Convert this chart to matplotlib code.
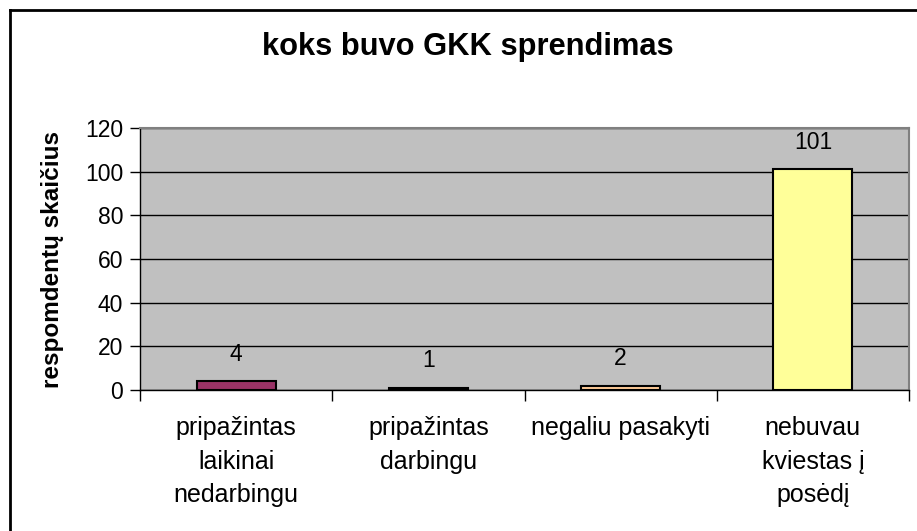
import matplotlib
matplotlib.use("Agg")
import matplotlib.pyplot as plt
from matplotlib.lines import Line2D

categories = ["pripažintas\nlaikinai\nnedarbingu", "pripažintas\ndarbingu",
              "negaliu pasakyti", "nebuvau\nkviestas į\nposėdį"]
values = [4, 1, 2, 101]
colors = ["#993366", "#000000", "#FFCC99", "#FFFF99"]
yticks = [0, 20, 40, 60, 80, 100, 120]

plt.rcParams['font.family'] = ['Liberation Sans', 'DejaVu Sans']

W, H = 917, 531
fig = plt.figure(figsize=(W / 100, H / 100), dpi=100)
fig.patch.set_facecolor("white")

ax = fig.add_axes([140 / W, 1 - 390 / H, 769 / W, 262 / H])
ax.set_facecolor("#C0C0C0")
x = list(range(len(categories)))
ax.bar(x, values, width=0.41, color=colors, edgecolor="black", linewidth=1.5, zorder=3)
ax.set_xlim(-0.5, 3.5)
ax.set_ylim(0, 120)
ax.set_yticks(yticks)
ax.yaxis.grid(True, color="#000000", linewidth=1.0, zorder=1)
ax.set_axisbelow(True)
for i, v in enumerate(values):
    ax.annotate(str(v), (i, v), xytext=(0, 27), textcoords="offset pixels",
                ha="center", va="center", fontsize=16.5)

ax.set_xticks(x)
ax.set_xticklabels(categories, fontsize=18, linespacing=1.48, va="top")
ax.tick_params(axis="x", which="major", length=0, pad=19)
ax.set_xticks([-0.5, 0.5, 1.5, 2.5, 3.5], minor=True)
ax.tick_params(axis="x", which="minor", length=8, width=1, direction="out")
ax.tick_params(axis="y", length=7, width=1, direction="out", labelsize=16.5, pad=5)

for s in ["left", "bottom"]:
    ax.spines[s].set_color("black")
    ax.spines[s].set_linewidth(1)
for s in ["top", "right"]:
    ax.spines[s].set_color("#808080")
    ax.spines[s].set_linewidth(1.5)

ax.set_ylabel("respomdentų skaičius", fontsize=17.5, fontweight="bold")
ax.yaxis.set_label_coords((64 - 140) / 769, 0.5)

fig.text(468 / W, 1 - 47 / H, "koks buvo GKK sprendimas", ha="center", va="center",
         fontsize=22.2, fontweight="bold")

fig.add_artist(Line2D([10 / W, 10 / W], [0, 1 - 10 / H], color="black", linewidth=2,
                      transform=fig.transFigure))
fig.add_artist(Line2D([10 / W, 1], [1 - 10 / H, 1 - 10 / H], color="black", linewidth=2,
                      transform=fig.transFigure))

fig.savefig("out.png", dpi=100)
